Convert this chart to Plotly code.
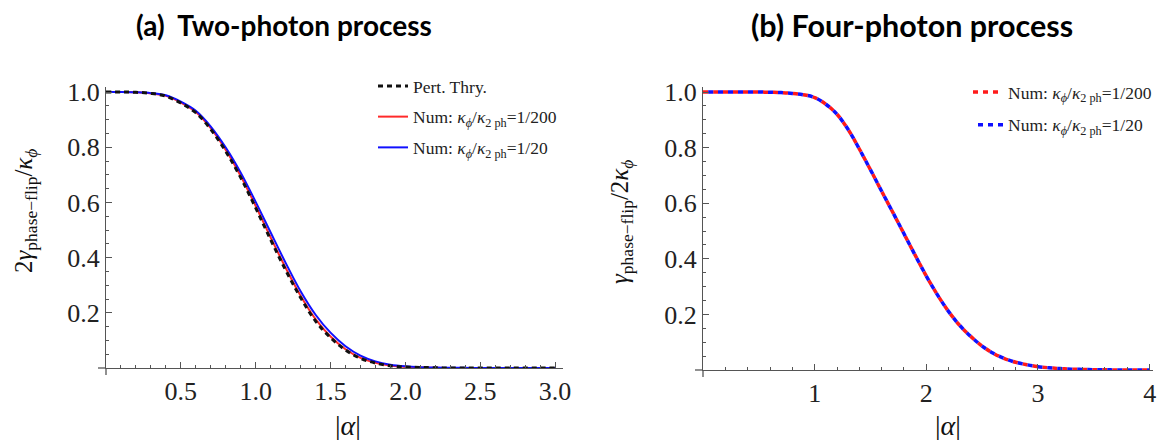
import plotly.graph_objects as go

# ---------------- data ----------------
alpha_two = [0.0, 0.1, 0.2, 0.3, 0.4, 0.5, 0.6, 0.7, 0.8, 0.9, 1.0, 1.1, 1.2, 1.3, 1.4, 1.5,
             1.6, 1.7, 1.8, 1.9, 2.0, 2.1, 2.2, 2.3, 2.4, 2.5, 2.6, 2.7, 2.8, 2.9, 3.0]
pert_thry = [1.0, 1.0, 0.999, 0.995, 0.985, 0.96, 0.925, 0.865, 0.785, 0.69, 0.58, 0.465, 0.355,
             0.255, 0.17, 0.11, 0.065, 0.035, 0.018, 0.008, 0.004, 0.002, 0.001, 0.0, 0.0, 0.0,
             0.0, 0.0, 0.0, 0.0, 0.0]
num_two_200 = [1.0, 1.0, 0.999, 0.995, 0.986, 0.962, 0.928, 0.869, 0.79, 0.696, 0.587, 0.473, 0.363,
               0.262, 0.177, 0.114, 0.068, 0.037, 0.019, 0.009, 0.004, 0.002, 0.001, 0.0, 0.0, 0.0,
               0.0, 0.0, 0.0, 0.0, 0.0]
num_two_20 = [1.0, 1.0, 0.999, 0.996, 0.988, 0.965, 0.932, 0.875, 0.799, 0.708, 0.602, 0.491, 0.381,
              0.278, 0.193, 0.128, 0.079, 0.045, 0.024, 0.012, 0.006, 0.003, 0.0015, 0.001, 0.0005,
              0.0, 0.0, 0.0, 0.0, 0.0, 0.0]

alpha_four = [0.0, 0.1, 0.2, 0.3, 0.4, 0.5, 0.6, 0.7, 0.8, 0.9, 1.0, 1.1, 1.2, 1.3, 1.4, 1.5, 1.6,
              1.7, 1.8, 1.9, 2.0, 2.1, 2.2, 2.3, 2.4, 2.5, 2.6, 2.7, 2.8, 2.9, 3.0, 3.1, 3.2, 3.3,
              3.4, 3.5, 3.6, 3.7, 3.8, 3.9, 4.0]
num_four_200 = [1.0, 1.0, 1.0, 1.0, 1.0, 1.0, 0.999, 0.998, 0.995, 0.99, 0.98, 0.956, 0.92, 0.865,
                0.795, 0.72, 0.643, 0.567, 0.49, 0.413, 0.338, 0.27, 0.21, 0.16, 0.12, 0.086,
                0.06, 0.041, 0.028, 0.019, 0.012, 0.008, 0.005, 0.003, 0.002, 0.001, 0.001,
                0.0, 0.0, 0.0, 0.0]
num_four_20 = [1.0, 1.0, 1.0, 1.0, 1.0, 1.0, 0.999, 0.998, 0.995, 0.99, 0.98, 0.956, 0.92, 0.865,
               0.795, 0.72, 0.643, 0.567, 0.49, 0.413, 0.338, 0.27, 0.21, 0.16, 0.12, 0.086,
               0.06, 0.041, 0.028, 0.019, 0.012, 0.008, 0.005, 0.003, 0.002, 0.001, 0.001,
               0.0, 0.0, 0.0, 0.0]

# tick labels
x1_ticks = [0.5, 1.0, 1.5, 2.0, 2.5, 3.0]
x1_labels = ["0.5", "1.0", "1.5", "2.0", "2.5", "3.0"]
x2_ticks = [1, 2, 3, 4]
x2_labels = ["1", "2", "3", "4"]
y_ticks = [0.2, 0.4, 0.6, 0.8, 1.0]
y_labels = ["0.2", "0.4", "0.6", "0.8", "1.0"]
x1_minor = [0.1, 0.2, 0.3, 0.4, 0.6, 0.7, 0.8, 0.9, 1.1, 1.2, 1.3, 1.4, 1.6, 1.7, 1.8, 1.9,
            2.1, 2.2, 2.3, 2.4, 2.6, 2.7, 2.8, 2.9]
x2_minor = [0.2, 0.4, 0.6, 0.8, 1.2, 1.4, 1.6, 1.8, 2.2, 2.4, 2.6, 2.8, 3.2, 3.4, 3.6, 3.8]
y_minor = [0.05, 0.1, 0.15, 0.25, 0.3, 0.35, 0.45, 0.5, 0.55, 0.65, 0.7, 0.75, 0.85, 0.9, 0.95]

leg_pert = "Pert. Thry."
leg_200 = "Num: <i>κ</i><sub><i>ϕ</i></sub>/<i>κ</i><sub>2 ph</sub>=1/200"
leg_20 = "Num: <i>κ</i><sub><i>ϕ</i></sub>/<i>κ</i><sub>2 ph</sub>=1/20"

SERIF = "Liberation Serif, Times New Roman, serif"
TITLEF = "Lato, Open Sans, sans-serif"
AX = "#555555"
W, H = 1160, 440

fig = go.Figure()

# ---- panel (a)
fig.add_trace(go.Scatter(x=alpha_two, y=num_two_200, mode="lines", name=leg_200,
                         line=dict(color="#ff2a2a", width=2, shape="spline"),
                         xaxis="x", yaxis="y", legend="legend", legendgroup="a2", legendrank=2))
fig.add_trace(go.Scatter(x=alpha_two, y=num_two_20, mode="lines", name=leg_20,
                         line=dict(color="#1010ff", width=2, shape="spline"),
                         xaxis="x", yaxis="y", legend="legend", legendgroup="a3", legendrank=3))
fig.add_trace(go.Scatter(x=alpha_two, y=pert_thry, mode="lines", name=leg_pert,
                         line=dict(color="#111111", width=3, dash="5px,4px", shape="spline"),
                         xaxis="x", yaxis="y", legend="legend", legendgroup="a1", legendrank=1))

# ---- panel (b)
fig.add_trace(go.Scatter(x=alpha_four, y=num_four_200, mode="lines", name=leg_200,
                         line=dict(color="#ff1a1a", width=3.5, dash="5px,5px", shape="spline"),
                         xaxis="x2", yaxis="y2", legend="legend2", legendgroup="b1", legendrank=1))
fig.add_trace(go.Scatter(x=alpha_four, y=num_four_20, mode="lines", name=leg_20,
                         line=dict(color="#1010ff", width=3.5, dash="0px,5px,5px,0px", shape="spline"),
                         xaxis="x2", yaxis="y2", legend="legend2", legendgroup="b2", legendrank=2))

axis_common = dict(showline=True, linecolor=AX, linewidth=1.3, ticks="inside",
                   ticklen=6, tickwidth=1.2, tickcolor=AX, showgrid=False,
                   zeroline=False, automargin=False,
                   tickfont=dict(family=SERIF, size=26, color="#222222"), fixedrange=True)


def minor(vals):
    return dict(tickmode="array", tickvals=vals, ticks="inside", ticklen=3,
                tickcolor=AX, showgrid=False)


fig.update_layout(
    width=W, height=H,
    margin=dict(l=0, r=0, t=0, b=0),
    paper_bgcolor="white", plot_bgcolor="white",
    xaxis=dict(domain=[106 / W, 563 / W], range=[0, 3.053], anchor="y",
               tickmode="array", tickvals=x1_ticks, ticktext=x1_labels,
               minor=minor(x1_minor), **axis_common),
    yaxis=dict(domain=[1 - 368 / H, 1 - 86.5 / H], range=[0, 1.02], anchor="x",
               tickmode="array", tickvals=y_ticks, ticktext=y_labels,
               minor=minor(y_minor), **axis_common),
    xaxis2=dict(domain=[703 / W, 1153 / W], range=[0, 4.03], anchor="y2",
                tickmode="array", tickvals=x2_ticks, ticktext=x2_labels,
                minor=minor(x2_minor), **axis_common),
    yaxis2=dict(domain=[1 - 370 / H, 1 - 87 / H], range=[0, 1.018], anchor="x2",
                tickmode="array", tickvals=y_ticks, ticktext=y_labels,
                minor=minor(y_minor), **axis_common),
    legend=dict(x=373 / W, y=1 - 68 / H, xanchor="left", yanchor="top", bgcolor="rgba(0,0,0,0)",
                font=dict(family=SERIF, size=17.5, color="#222222"),
                traceorder="grouped", tracegroupgap=5, itemwidth=30),
    legend2=dict(x=968 / W, y=1 - 74 / H, xanchor="left", yanchor="top", bgcolor="rgba(0,0,0,0)",
                 font=dict(family=SERIF, size=17.5, color="#222222"),
                 traceorder="grouped", tracegroupgap=7, itemwidth=30),
    showlegend=True,
)

annotations = [
    dict(text="<b>(a)\u00a0 Two-photon process</b>", x=284 / W, y=1 - 25 / H,
         xref="paper", yref="paper", showarrow=False, xanchor="center", yanchor="middle",
         font=dict(family=TITLEF, size=28, color="black")),
    dict(text="<b>(b) Four-photon process</b>", x=912 / W, y=1 - 25 / H,
         xref="paper", yref="paper", showarrow=False, xanchor="center", yanchor="middle",
         font=dict(family=TITLEF, size=30.5, color="black")),
    dict(text="2<i>γ</i><sub>phase−flip</sub>/<i>κ</i><sub><i>ϕ</i></sub>",
         x=26 / W, y=1 - 211 / H, xref="paper", yref="paper", showarrow=False,
         textangle=-90, xanchor="center", yanchor="middle",
         font=dict(family=SERIF, size=25, color="#111111")),
    dict(text="<i>γ</i><sub>phase−flip</sub>/2<i>κ</i><sub><i>ϕ</i></sub>",
         x=621 / W, y=1 - 222 / H, xref="paper", yref="paper", showarrow=False,
         textangle=-90, xanchor="center", yanchor="middle",
         font=dict(family=SERIF, size=25, color="#111111")),
    dict(text="|<i>α</i>|", x=348 / W, y=1 - 425 / H, xref="paper", yref="paper",
         showarrow=False, xanchor="center", yanchor="middle",
         font=dict(family=SERIF, size=28, color="#111111")),
    dict(text="|<i>α</i>|", x=948 / W, y=1 - 425 / H, xref="paper", yref="paper",
         showarrow=False, xanchor="center", yanchor="middle",
         font=dict(family=SERIF, size=28, color="#111111")),
]

# Mathematica-style axis overhang at the origin
shapes = [
    dict(type="line", xref="paper", yref="paper", x0=98 / W, x1=106 / W, y0=1 - 368 / H, y1=1 - 368 / H,
         line=dict(color=AX, width=1.3)),
    dict(type="line", xref="paper", yref="paper", x0=106 / W, x1=106 / W, y0=1 - 368 / H, y1=1 - 375 / H,
         line=dict(color=AX, width=1.3)),
    dict(type="line", xref="paper", yref="paper", x0=695 / W, x1=703 / W, y0=1 - 370 / H, y1=1 - 370 / H,
         line=dict(color=AX, width=1.3)),
    dict(type="line", xref="paper", yref="paper", x0=703 / W, x1=703 / W, y0=1 - 370 / H, y1=1 - 377 / H,
         line=dict(color=AX, width=1.3)),
]
fig.update_layout(annotations=annotations, shapes=shapes)

fig.write_html("out.html", config={"displayModeBar": False},
               post_script="document.body.style.margin='0px';")
